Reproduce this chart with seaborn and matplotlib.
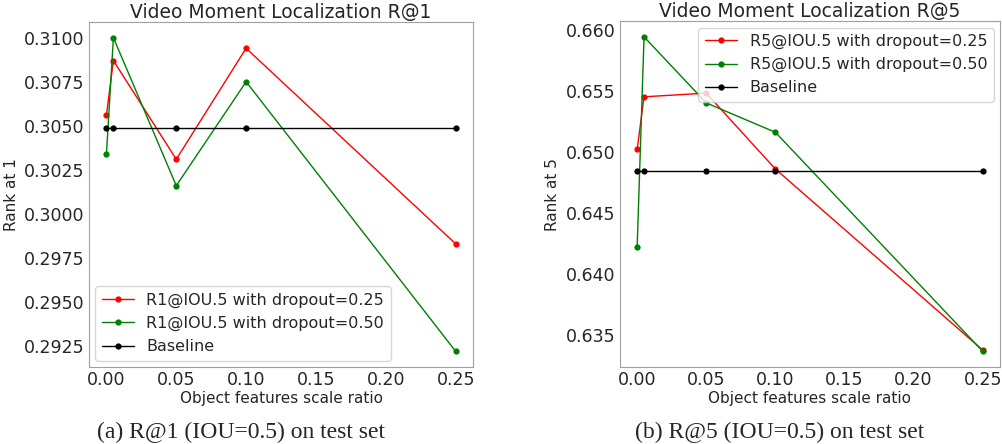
import pandas as pd
import numpy as np
import matplotlib.pyplot as plt
import seaborn as sns

# scale ratios used for the object features
scale_ratio = [0.0, 0.005, 0.05, 0.10, 0.25]

# R@1 (IOU=0.5)
r1_drop25 = [0.3056, 0.3087, 0.3031, 0.3094, 0.2983]
r1_drop50 = [0.3034, 0.3100, 0.3016, 0.3075, 0.2922]
r1_base = [0.3049, 0.3049, 0.3049, 0.3049, 0.3049]

# R@5 (IOU=0.5)
r5_drop25 = [0.6502, 0.6545, 0.6548, 0.6486, 0.6338]
r5_drop50 = [0.6422, 0.6594, 0.6540, 0.6516, 0.6337]
r5_base = [0.6484, 0.6484, 0.6484, 0.6484, 0.6484]

sns.set_style('white')
plt.rcParams['font.family'] = ['DejaVu Sans']
plt.rcParams['axes.edgecolor'] = '#a0a0a0'
plt.rcParams['xtick.labelsize'] = 12.5
plt.rcParams['ytick.labelsize'] = 12.5

fig = plt.figure(figsize=(10.03, 4.44), dpi=100)
ax1 = fig.add_axes([0.0887, 0.1734, 0.383, 0.777])
ax2 = fig.add_axes([0.618, 0.1734, 0.379, 0.779])


def draw(ax, ys, labels, title, ylabel, loc):
    for y, lab, col in zip(ys, labels, ['red', 'green', 'black']):
        sns.lineplot(x=scale_ratio, y=y, ax=ax, color=col, marker='o',
                     markersize=4.5, markeredgewidth=0, linewidth=1,
                     label=lab)
    ax.set_title(title, fontsize=13.5, pad=3)
    ax.set_xlabel('Object features scale ratio', fontsize=11, labelpad=1)
    ax.set_ylabel(ylabel, fontsize=11)
    ax.set_xticks([0.0, 0.05, 0.10, 0.15, 0.20, 0.25])
    ax.tick_params(axis='both', length=0, pad=3)
    ax.legend(loc=loc, fontsize=11.5, handlelength=2, borderaxespad=0.4)


draw(ax1, [r1_drop25, r1_drop50, r1_base],
     ['R1@IOU.5 with dropout=0.25', 'R1@IOU.5 with dropout=0.50', 'Baseline'],
     'Video Moment Localization R@1', 'Rank at 1', 'lower left')
ax1.set_yticks([0.2925, 0.2950, 0.2975, 0.3000, 0.3025, 0.3050, 0.3075, 0.3100])
ax1.yaxis.set_major_formatter(plt.FormatStrFormatter('%.4f'))

draw(ax2, [r5_drop25, r5_drop50, r5_base],
     ['R5@IOU.5 with dropout=0.25', 'R5@IOU.5 with dropout=0.50', 'Baseline'],
     'Video Moment Localization R@5', 'Rank at 5', 'upper right')
ax2.set_yticks([0.635, 0.640, 0.645, 0.650, 0.655, 0.660])
ax2.yaxis.set_major_formatter(plt.FormatStrFormatter('%.3f'))

fig.text(0.240, 0.027, '(a) R@1 (IOU=0.5) on test set', ha='center', va='center',
         fontsize=17, family=['Liberation Serif'])
fig.text(0.777, 0.027, '(b) R@5 (IOU=0.5) on test set', ha='center', va='center',
         fontsize=17, family=['Liberation Serif'])

fig.savefig('out.png', dpi=100)
